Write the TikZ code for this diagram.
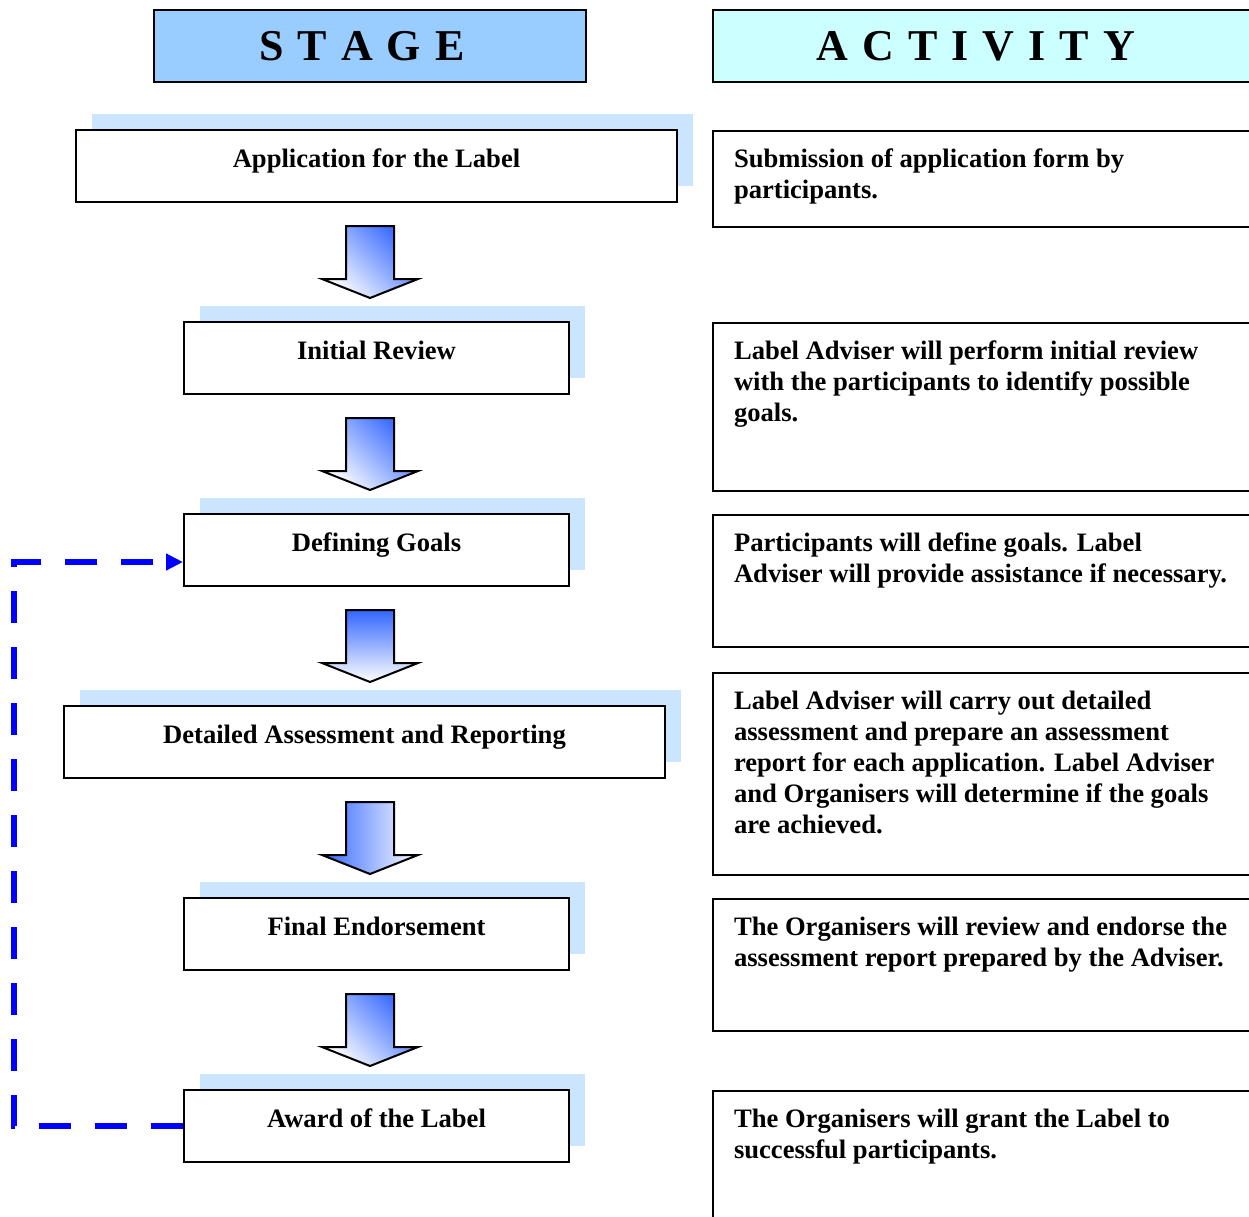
\documentclass[tikz,border=0pt]{standalone}
\usepackage{fontspec}
\setmainfont{Liberation Serif}
\usepackage{tikz}
\usetikzlibrary{arrows.meta,calc,shadows}
\definecolor{stagefill}{RGB}{153,204,255}
\definecolor{actfill}{RGB}{204,255,255}
\definecolor{shadowblue}{RGB}{204,229,255}
\definecolor{arrowblue}{RGB}{51,102,255}
\newcommand{\lsp}{\hspace{14pt}}

\begin{document}
\begin{tikzpicture}[x=1pt,y=-1pt,
  head/.style={draw,line width=2pt,minimum height=72pt,inner sep=0pt,font=\fontsize{44pt}{50pt}\selectfont\bfseries},
  stagebox/.style={draw,line width=2pt,fill=white,inner sep=0pt,text height=37pt,text depth=35pt,
    font=\fontsize{26.6pt}{31pt}\selectfont\bfseries,
    general shadow={fill=shadowblue,shadow xshift=16pt,shadow yshift=16pt}},
  actbox/.style={draw,line width=2pt,anchor=north west,inner xsep=21pt,inner ysep=0pt,
    font=\fontsize{26.6pt}{31pt}\selectfont\bfseries},
  blockarrow/.style={draw=black,line width=2pt,top color=arrowblue,bottom color=white},
  loopback/.style={draw=blue,line width=6pt,dash pattern=on 32pt off 24pt,-{Triangle[length=17pt,width=16pt]}}]
\useasboundingbox (0,0) rectangle (1249,1216);

\node[head,fill=stagefill,minimum width=432pt] (stagehead) at (370,46) {S\lsp T\lsp A\lsp G\lsp E\hspace*{16pt}};
\node[head,fill=actfill,anchor=west] (acthead) at (712,46) {\makebox[526pt]{A\lsp C\lsp T\lsp I\lsp V\lsp I\lsp T\lsp Y}\hspace*{80pt}};

\node[stagebox,minimum width=601pt] (apply) at (376.5,166) {Application for the Label};
\node[stagebox,minimum width=385pt] (review) at (376.5,358) {Initial Review};
\node[stagebox,minimum width=385pt] (goals) at (376.5,550) {Defining Goals};
\node[stagebox,minimum width=601pt] (assess) at (364.5,742) {Detailed Assessment and Reporting};
\node[stagebox,minimum width=385pt] (endorse) at (376.5,934) {Final Endorsement};
\node[stagebox,minimum width=385pt] (award) at (376.5,1126) {Award of the Label};

\foreach \y/\ang in {226/-45,418/-45,610/0,802/90,994/-45}
  \draw[blockarrow,shading angle=\ang] (346,\y) -- (394,\y) -- (394,\y+53) -- (418,\y+53)
    -- (370,\y+72) -- (322,\y+53) -- (346,\y+53) -- cycle;

\node[actbox] (applyact) at (712,130) {\parbox[t][96pt][t]{540pt}{\raggedright\rule{0pt}{36pt}Submission of application form by\\participants.}};
\node[actbox] (reviewact) at (712,322) {\parbox[t][168pt][t]{540pt}{\raggedright\rule{0pt}{36pt}Label Adviser will perform initial review\\with the participants to identify possible\\goals.}};
\node[actbox] (goalsact) at (712,514) {\parbox[t][132pt][t]{540pt}{\raggedright\rule{0pt}{36pt}Participants will define goals. Label\\Adviser will provide assistance if necessary.}};
\node[actbox] (assessact) at (712,672) {\parbox[t][202pt][t]{540pt}{\raggedright\rule{0pt}{36pt}Label Adviser will carry out detailed\\assessment and prepare an assessment\\report for each application. Label Adviser\\and Organisers will determine if the goals\\are achieved.}};
\node[actbox] (endorseact) at (712,898) {\parbox[t][132pt][t]{540pt}{\raggedright\rule{0pt}{36pt}The Organisers will review and endorse the\\assessment report prepared by the Adviser.}};
\node[actbox] (awardact) at (712,1090) {\parbox[t][160pt][t]{540pt}{\raggedright\rule{0pt}{36pt}The Organisers will grant the Label to\\successful participants.}};

\draw[loopback] (award.west) -- ++(-169,0) |- ([yshift=-12pt]goals.west);
\end{tikzpicture}
\end{document}
